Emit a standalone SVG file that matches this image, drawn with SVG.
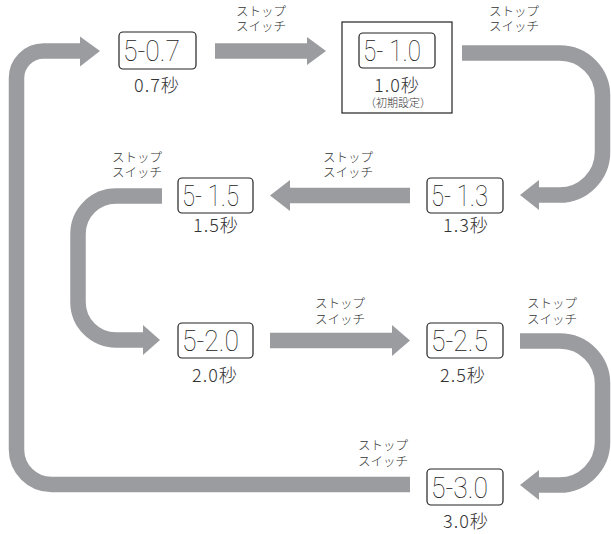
<svg xmlns="http://www.w3.org/2000/svg" width="611" height="534" viewBox="0 0 611 534">
<style>
.shaft{fill:none;stroke:#9b9ca0;stroke-width:15.5;stroke-linecap:butt;stroke-linejoin:round}
.head{fill:#9b9ca0;stroke:none}
.disp{fill:#fff;stroke:#222;stroke-width:1.2}
.seg{font-family:"Roboto","DejaVu Sans",sans-serif;font-weight:100;font-size:30px;fill:#222}
.sec{font-family:"Noto Sans CJK JP","Noto Sans",sans-serif;font-weight:300;font-size:18px;fill:#333;text-anchor:middle;letter-spacing:1px}
.sw{font-family:"Noto Sans CJK JP","Noto Sans",sans-serif;font-weight:300;font-size:12.5px;fill:#333;text-anchor:middle}
.note{font-family:"Noto Sans CJK JP","Noto Sans",sans-serif;font-weight:300;font-size:11px;fill:#333;text-anchor:middle}
</style>
<rect width="611" height="534" fill="#fff"/>
<g id="connectors">
  <path class="shaft" d="M 410 484.5 H 51.5 A 35 35 0 0 1 16.5 449.5 V 78 A 27 27 0 0 1 43.5 51 H 81"/>
  <polygon class="head" points="80,36.5 100,51 80,66.5"/>
  <path class="shaft" d="M 215 51 H 308"/>
  <polygon class="head" points="307,37 326,51 307,65"/>
  <path class="shaft" d="M 462 53 H 560 A 42.5 42.5 0 0 1 602.5 95.5 V 152 A 43 43 0 0 1 559.5 195 H 538"/>
  <polygon class="head" points="539,180 520,195 539,210"/>
  <path class="shaft" d="M 410 195.5 H 289"/>
  <polygon class="head" points="290,180 270,195.5 290,211"/>
  <path class="shaft" d="M 162 196 H 116 A 38 38 0 0 0 78 234 V 302 A 38 38 0 0 0 116 340 H 144"/>
  <polygon class="head" points="143,325 160,340 143,355"/>
  <path class="shaft" d="M 270 340.5 H 393"/>
  <polygon class="head" points="392,325 410,340.5 392,356"/>
  <path class="shaft" d="M 520 341 H 560 A 42.5 42.5 0 0 1 602.5 383.5 V 442 A 43 43 0 0 1 559.5 485 H 538"/>
  <polygon class="head" points="539,470 520,485 539,500"/>
  <text class="sw" x="261" y="16">ストップ<tspan x="261" dy="15">スイッチ</tspan></text>
  <text class="sw" x="514" y="16">ストップ<tspan x="514" dy="15">スイッチ</tspan></text>
  <text class="sw" x="348" y="162">ストップ<tspan x="348" dy="15">スイッチ</tspan></text>
  <text class="sw" x="137" y="162">ストップ<tspan x="137" dy="15">スイッチ</tspan></text>
  <text class="sw" x="340" y="308">ストップ<tspan x="340" dy="16">スイッチ</tspan></text>
  <text class="sw" x="552" y="308">ストップ<tspan x="552" dy="16">スイッチ</tspan></text>
  <text class="sw" x="383" y="450">ストップ<tspan x="383" dy="16">スイッチ</tspan></text>
</g>
<g id="node-07">
  <rect class="disp" x="119" y="32" width="77" height="37" rx="4"/>
  <text class="seg" x="123" y="61" textLength="57" lengthAdjust="spacingAndGlyphs">5-0.7</text>
  <text class="sec" x="157" y="92">0.7秒</text>
</g>
<g id="node-10">
  <rect x="342" y="22" width="110" height="91" fill="#fff" stroke="#222" stroke-width="1.2"/>
  <rect class="disp" x="359" y="33" width="76" height="35" rx="4"/>
  <text class="seg" x="363" y="61" textLength="58" lengthAdjust="spacingAndGlyphs">5- 1.0</text>
  <text class="sec" x="397" y="92">1.0秒</text>
  <text class="note" x="398" y="107">（初期設定）</text>
</g>
<g id="node-13">
  <rect class="disp" x="427" y="178" width="76" height="35" rx="4"/>
  <text class="seg" x="431" y="206" textLength="57" lengthAdjust="spacingAndGlyphs">5- 1.3</text>
  <text class="sec" x="466" y="232">1.3秒</text>
</g>
<g id="node-15">
  <rect class="disp" x="178" y="178" width="75" height="35" rx="4"/>
  <text class="seg" x="182" y="206" textLength="57" lengthAdjust="spacingAndGlyphs">5- 1.5</text>
  <text class="sec" x="216" y="232">1.5秒</text>
</g>
<g id="node-20">
  <rect class="disp" x="178" y="323" width="75" height="35" rx="4"/>
  <text class="seg" x="182" y="351" textLength="57" lengthAdjust="spacingAndGlyphs">5-2.0</text>
  <text class="sec" x="215" y="382">2.0秒</text>
</g>
<g id="node-25">
  <rect class="disp" x="427" y="323" width="76" height="35" rx="4"/>
  <text class="seg" x="431" y="351" textLength="57" lengthAdjust="spacingAndGlyphs">5-2.5</text>
  <text class="sec" x="463" y="382">2.5秒</text>
</g>
<g id="node-30">
  <rect class="disp" x="427" y="469" width="76" height="36" rx="4"/>
  <text class="seg" x="431" y="498" textLength="57" lengthAdjust="spacingAndGlyphs">5-3.0</text>
  <text class="sec" x="466" y="528">3.0秒</text>
</g>
</svg>
